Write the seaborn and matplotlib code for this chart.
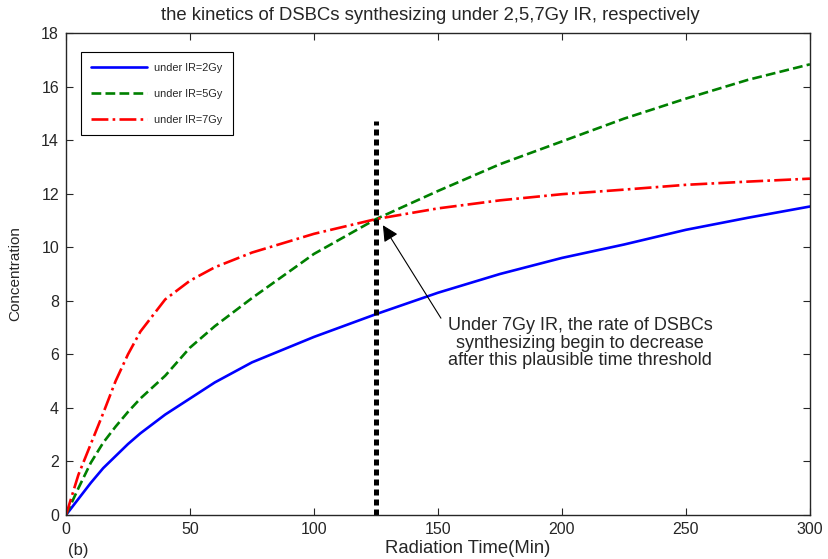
import pandas as pd
import seaborn as sns
import matplotlib.pyplot as plt

# Data
time = [0, 5, 10, 15, 20, 25, 30, 40, 50, 60, 75, 100, 125, 150, 175, 200, 225, 250, 275, 300]
ir2 = [0, 0.6, 1.2, 1.75, 2.2, 2.65, 3.05, 3.75, 4.35, 4.95, 5.7, 6.65, 7.5, 8.3, 9.0, 9.6, 10.1, 10.65, 11.1, 11.52]
ir5 = [0, 1.0, 1.95, 2.7, 3.3, 3.85, 4.35, 5.2, 6.25, 7.05, 8.1, 9.75, 11.05, 12.1, 13.1, 13.95, 14.8, 15.55, 16.25, 16.83]
ir7 = [0, 1.5, 2.65, 3.8, 5.0, 6.0, 6.85, 8.05, 8.75, 9.25, 9.8, 10.5, 11.05, 11.45, 11.75, 11.98, 12.15, 12.33, 12.45, 12.56]
labels = ["under IR=2Gy", "under IR=5Gy", "under IR=7Gy"]

threshold_x = 125
threshold_top = 14.7

df = pd.DataFrame({"time": time, labels[0]: ir2, labels[1]: ir5, labels[2]: ir7})

sns.set_style("ticks")
plt.rcParams["font.family"] = ["Liberation Sans", "DejaVu Sans"]
plt.rcParams["xtick.direction"] = "in"
plt.rcParams["ytick.direction"] = "in"

fig = plt.figure(figsize=(8.29, 5.59), dpi=100)
ax = fig.add_axes([0.0796, 0.0787, 0.8974, 0.8623])

styles = [("blue", "-"), ("green", "--"), ("red", "-.")]
for lab, (c, ls) in zip(labels, styles):
    sns.lineplot(data=df, x="time", y=lab, color=c, linestyle=ls, linewidth=1.9, label=lab, ax=ax)

# threshold marker
ax.plot([threshold_x, threshold_x], [0, threshold_top], color="black", linestyle=(0, (1.2, 0.8)), linewidth=3.6)

ax.text(207.3, 6.42, "Under 7Gy IR, the rate of DSBCs\nsynthesizing begin to decrease\nafter this plausible time threshold",
        ha="center", va="center", fontsize=13, linespacing=1.07)
ax.annotate("", xy=(127.8, 10.82), xytext=(151.2, 7.35),
            arrowprops=dict(arrowstyle="-|>", color="black", lw=0.8, mutation_scale=24,
                            shrinkA=0, shrinkB=0))

ax.set_xlim(0, 300)
ax.set_ylim(0, 18)
ax.set_xticks(range(0, 301, 50))
ax.set_yticks(range(0, 19, 2))
ax.tick_params(top=True, right=True, labelsize=11.5, length=5, width=0.8, pad=5)
for s in ax.spines.values():
    s.set_linewidth(1.0)
    s.set_visible(True)

ax.set_xlabel("Radiation Time(Min)", fontsize=13.3)
ax.xaxis.label.set_va("center")
ax.xaxis.set_label_coords(0.54, -0.0705)
ax.set_ylabel("Concentration", fontsize=11)
ax.yaxis.label.set_va("center")
ax.yaxis.set_label_coords(-0.0685, 0.5)
ax.set_title("the kinetics of DSBCs synthesizing under 2,5,7Gy IR, respectively",
             fontsize=13.3, x=0.49, y=1.037, va="center", pad=0)
fig.text(78 / 829, 1 - 550 / 559, "(b)", fontsize=12, ha="center", va="center")

leg = ax.legend(loc="upper left", fontsize=7.8, fancybox=False, edgecolor="black",
                framealpha=1, borderpad=0.95, handlelength=5.2, handletextpad=0.6,
                labelspacing=1.5, borderaxespad=0, bbox_to_anchor=(0.02, 0.96))
leg.get_frame().set_linewidth(0.8)

fig.savefig("out.png", dpi=100)
